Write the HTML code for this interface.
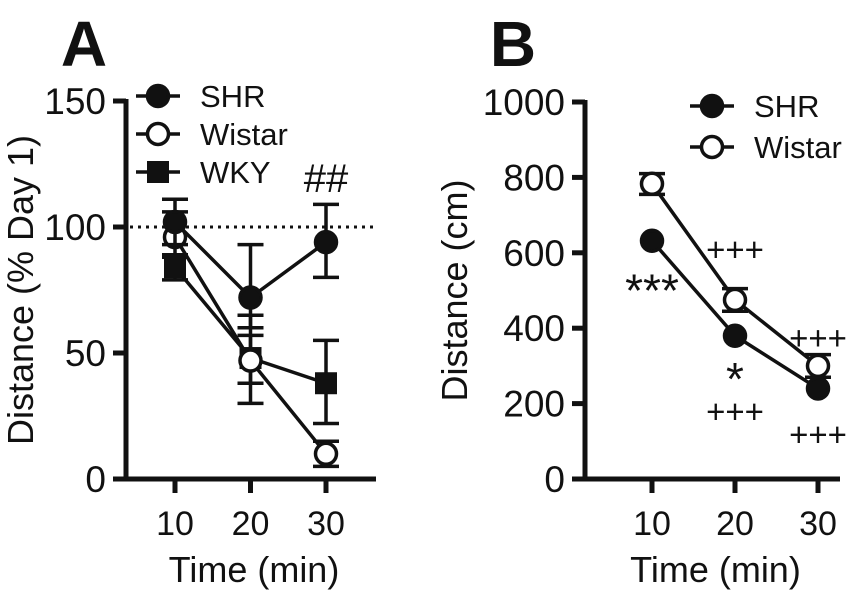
<!DOCTYPE html>
<html><head><meta charset="utf-8"><style>
body{margin:0;background:#fff}
svg text{font-family:"Liberation Sans",Arial,sans-serif;fill:#111}
</style></head><body>
<svg width="850" height="597" viewBox="0 0 850 597" xmlns="http://www.w3.org/2000/svg">
<g id="gA"></g>
<g id="gB"></g>
</svg>
<script>
const NS='http://www.w3.org/2000/svg';
// Panel A data
const timesA=[10,20,30];
const shrA=[102,72,94], shrAerrHi=[111,93,109], shrAerrLo=[93,60,80];
const wisA=[96,47,10], wisAerrHi=[106,57,15], wisAerrLo=[88,38,5];
const wkyA=[84,48,38], wkyAerrHi=[89,65,55], wkyAerrLo=[79,30,22];
const yTicksA=[0,50,100,150];
// Panel B data
const timesB=[10,20,30];
const shrB=[632,380,240];
const wisB=[783,475,300], wisBerrHi=[810,505,330], wisBerrLo=[755,445,270];
const yTicksB=[0,200,400,600,800,1000];
const annB=[{t:10,v:505,s:'***'},{t:20,v:610,s:'+++'},{t:20,v:270,s:'*'},{t:20,v:180,s:'+++'},{t:30,v:375,s:'+++'},{t:30,v:120,s:'+++'}];

function el(p,tag,a,txt){const e=document.createElementNS(NS,tag);for(const k in a)e.setAttribute(k,a[k]);if(txt!=null)e.textContent=txt;p.appendChild(e);return e;}

function panel(g,o){
  const xs=t=>o.x0+(t-10)*(o.x1-o.x0)/20;
  const ys=v=>o.yb-v*(o.yb-o.yt)/o.ymax;
  const ax=el(g,'path',{d:`M${o.ax},${o.yt-2}V${o.yb}H${o.axEnd}`,stroke:'#111','stroke-width':5,fill:'none'});
  
  
  o.yticks.forEach(v=>{
    el(g,'line',{x1:o.ax-13,x2:o.ax,y1:ys(v),y2:ys(v),stroke:'#111','stroke-width':5});
    const t=el(g,'text',{x:o.ax-20,y:ys(v)+13,'text-anchor':'end','font-size':37},v);
    
    
  });
  o.times.forEach(tm=>{
    el(g,'line',{x1:xs(tm),x2:xs(tm),y1:o.yb,y2:o.yb+14,stroke:'#111','stroke-width':5});
    const t=el(g,'text',{x:xs(tm),y:535,'text-anchor':'middle','font-size':34},tm);
    
    
  });
  const xt=el(g,'text',{x:(o.ax+o.axEnd)/2+3,y:582,'text-anchor':'middle','font-size':36},'Time (min)');
  
  
  const yt=el(g,'text',{transform:`translate(${o.ytx},${(o.yt+o.yb)/2}) rotate(-90)`,'text-anchor':'middle','font-size':36},o.ytitle);
  
  
  o.series.forEach(s=>{
    const sg=el(g,'g',{});
    
    
    if(s.hi) o.times.forEach((tm,i)=>{
      const x=xs(tm);
      el(sg,'path',{d:`M${x},${ys(s.hi[i])}V${ys(s.lo[i])}M${x-13},${ys(s.hi[i])}h26M${x-13},${ys(s.lo[i])}h26`,stroke:'#111','stroke-width':3.5,fill:'none'});
    });
    el(sg,'polyline',{points:o.times.map((tm,i)=>xs(tm)+','+ys(s.v[i])).join(' '),stroke:'#111','stroke-width':3.5,fill:'none'});
    o.times.forEach((tm,i)=>{
      const x=xs(tm),y=ys(s.v[i]);let m;
      if(s.mk==='sq') m=el(sg,'rect',{x:x-11,y:y-11,width:22,height:22,fill:'#111'});
      else m=el(sg,'circle',{cx:x,cy:y,r:10.5,fill:s.mk==='open'?'#fff':'#111',stroke:'#111','stroke-width':3.5});
      
      
    });
  });
  o.legend.forEach((s,i)=>{
    const y=o.legY+i*o.legDy, x=o.legX;
    const lg=el(g,'g',{});
    
    
    el(lg,'line',{x1:x-22,x2:x+22,y1:y,y2:y,stroke:'#111','stroke-width':3.5});
    if(s.mk==='sq') el(lg,'rect',{x:x-11,y:y-11,width:22,height:22,fill:'#111'});
    else el(lg,'circle',{cx:x,cy:y,r:10.5,fill:s.mk==='open'?'#fff':'#111',stroke:'#111','stroke-width':3.5});
    el(lg,'text',{x:x+42,y:y+11,'font-size':31},s.label);
  });
  return {xs,ys};
}

const gA=document.getElementById('gA');
const A=panel(gA,{ax:126,axEnd:376,yb:479,yt:101,ymax:150,x0:175,x1:326,times:timesA,yticks:yTicksA,ytx:33,ytitle:'Distance (% Day 1)',
  series:[{name:'wky',v:wkyA,hi:wkyAerrHi,lo:wkyAerrLo,mk:'sq'},{name:'wistar',v:wisA,hi:wisAerrHi,lo:wisAerrLo,mk:'open'},{name:'shr',v:shrA,hi:shrAerrHi,lo:shrAerrLo,mk:'filled'}],
  legend:[{label:'SHR',mk:'filled'},{label:'Wistar',mk:'open'},{label:'WKY',mk:'sq'}],legX:158,legY:96,legDy:38});
const dl=el(gA,'line',{x1:130,x2:376,y1:A.ys(100),y2:A.ys(100),stroke:'#111','stroke-width':3,'stroke-dasharray':'3,5'});


const hh=el(gA,'text',{x:326,y:192,'text-anchor':'middle','font-size':40},'##');


const ta=el(gA,'text',{x:84,y:66,'text-anchor':'middle','font-size':64,'font-weight':'bold'},'A');



const gB=document.getElementById('gB');
const B=panel(gB,{ax:585,axEnd:840,yb:479,yt:102,ymax:1000,x0:652,x1:818,times:timesB,yticks:yTicksB,ytx:467,ytitle:'Distance (cm)',
  series:[{name:'wistar',v:wisB,hi:wisBerrHi,lo:wisBerrLo,mk:'open'},{name:'shr',v:shrB,mk:'filled'}],
  legend:[{label:'SHR',mk:'filled'},{label:'Wistar',mk:'open'}],legX:712,legY:106,legDy:41});
annB.forEach(a=>{
  const star=a.s.includes('*');
  const t=el(gB,'text',{x:B.xs(a.t),y:B.ys(a.v)+(star?18:12),'text-anchor':'middle','font-size':star?46:33},a.s);
  
  
});
const tb=el(gB,'text',{x:513,y:66,'text-anchor':'middle','font-size':64,'font-weight':'bold'},'B');


</script>
</body></html>
